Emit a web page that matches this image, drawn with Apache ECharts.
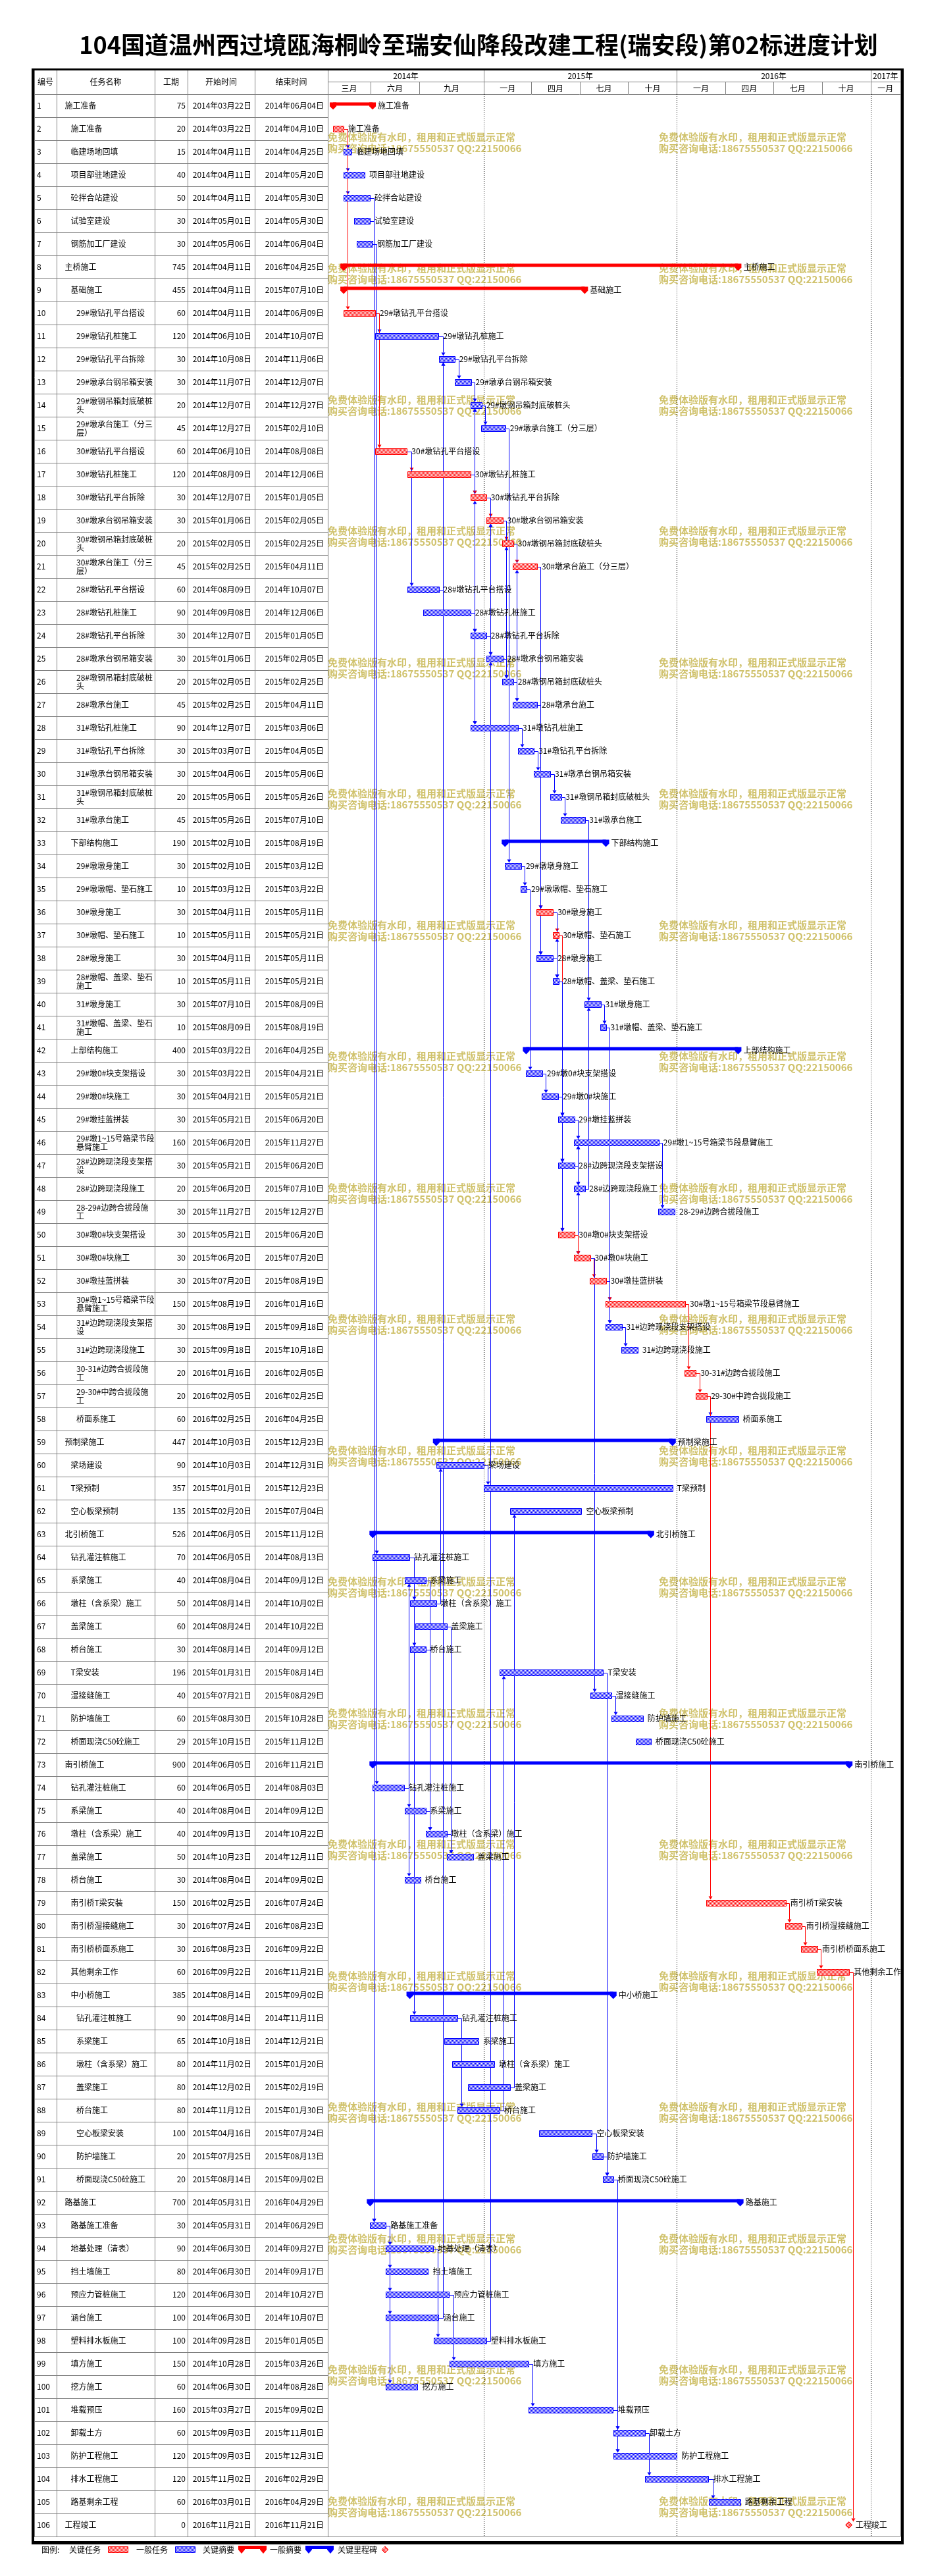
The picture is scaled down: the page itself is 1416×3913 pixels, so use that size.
<!DOCTYPE html>
<html><head><meta charset="utf-8">
<script src="https://cdn.jsdelivr.net/npm/echarts@6/dist/echarts.min.js"></script>
<style>html,body{margin:0;padding:0;background:#fff}#c{width:1416px;height:3913px}</style>
</head><body><div id="c"></div>
<script>
// ---------------- DATA ----------------
const taskNames = [
'施工准备','施工准备','临建场地回填','项目部驻地建设','砼拌合站建设','试验室建设','钢筋加工厂建设',
'主桥施工','基础施工','29#墩钻孔平台搭设','29#墩钻孔桩施工','29#墩钻孔平台拆除','29#墩承台钢吊箱安装',
'29#墩钢吊箱封底破桩\n头','29#墩承台施工（分三\n层）','30#墩钻孔平台搭设','30#墩钻孔桩施工','30#墩钻孔平台拆除',
'30#墩承台钢吊箱安装','30#墩钢吊箱封底破桩\n头','30#墩承台施工（分三\n层）','28#墩钻孔平台搭设','28#墩钻孔桩施工',
'28#墩钻孔平台拆除','28#墩承台钢吊箱安装','28#墩钢吊箱封底破桩\n头','28#墩承台施工','31#墩钻孔桩施工',
'31#墩钻孔平台拆除','31#墩承台钢吊箱安装','31#墩钢吊箱封底破桩\n头','31#墩承台施工','下部结构施工',
'29#墩墩身施工','29#墩墩帽、垫石施工','30#墩身施工','30#墩帽、垫石施工','28#墩身施工','28#墩帽、盖梁、垫石\n施工',
'31#墩身施工','31#墩帽、盖梁、垫石\n施工','上部结构施工','29#墩0#块支架搭设','29#墩0#块施工','29#墩挂蓝拼装',
'29#墩1~15号箱梁节段\n悬臂施工','28#边跨现浇段支架搭\n设','28#边跨现浇段施工','28-29#边跨合拢段施\n工',
'30#墩0#块支架搭设','30#墩0#块施工','30#墩挂蓝拼装','30#墩1~15号箱梁节段\n悬臂施工','31#边跨现浇段支架搭\n设',
'31#边跨现浇段施工','30-31#边跨合拢段施\n工','29-30#中跨合拢段施\n工','桥面系施工','预制梁施工','梁场建设',
'T梁预制','空心板梁预制','北引桥施工','钻孔灌注桩施工','系梁施工','墩柱（含系梁）施工','盖梁施工','桥台施工',
'T梁安装','湿接缝施工','防护墙施工','桥面现浇C50砼施工','南引桥施工','钻孔灌注桩施工','系梁施工',
'墩柱（含系梁）施工','盖梁施工','桥台施工','南引桥T梁安装','南引桥湿接缝施工','南引桥桥面系施工','其他剩余工作',
'中小桥施工','钻孔灌注桩施工','系梁施工','墩柱（含系梁）施工','盖梁施工','桥台施工','空心板梁安装','防护墙施工',
'桥面现浇C50砼施工','路基施工','路基施工准备','地基处理（清表）','挡土墙施工','预应力管桩施工','涵台施工',
'塑料排水板施工','填方施工','挖方施工','堆载预压','卸载土方','防护工程施工','排水工程施工','路基剩余工程','工程竣工'];
const durations = [75,20,15,40,50,30,30,745,455,60,120,30,30,20,45,60,120,30,30,20,45,60,90,30,30,20,45,90,30,30,20,45,
190,30,10,30,10,30,10,30,10,400,30,30,30,160,30,20,30,30,30,30,150,30,30,20,20,60,447,90,357,135,526,70,40,50,60,30,
196,40,60,29,900,60,40,40,50,30,150,30,30,60,385,90,65,80,80,80,100,20,20,700,30,90,80,120,100,100,150,60,160,60,120,120,60,0];
const startDates = ['2014-03-22','2014-03-22','2014-04-11','2014-04-11','2014-04-11','2014-05-01','2014-05-06',
'2014-04-11','2014-04-11','2014-04-11','2014-06-10','2014-10-08','2014-11-07','2014-12-07','2014-12-27','2014-06-10',
'2014-08-09','2014-12-07','2015-01-06','2015-02-05','2015-02-25','2014-08-09','2014-09-08','2014-12-07','2015-01-06',
'2015-02-05','2015-02-25','2014-12-07','2015-03-07','2015-04-06','2015-05-06','2015-05-26','2015-02-10','2015-02-10',
'2015-03-12','2015-04-11','2015-05-11','2015-04-11','2015-05-11','2015-07-10','2015-08-09','2015-03-22','2015-03-22',
'2015-04-21','2015-05-21','2015-06-20','2015-05-21','2015-06-20','2015-11-27','2015-05-21','2015-06-20','2015-07-20',
'2015-08-19','2015-08-19','2015-09-18','2016-01-16','2016-02-05','2016-02-25','2014-10-03','2014-10-03','2015-01-01',
'2015-02-20','2014-06-05','2014-06-05','2014-08-04','2014-08-14','2014-08-24','2014-08-14','2015-01-31','2015-07-21',
'2015-08-30','2015-10-15','2014-06-05','2014-06-05','2014-08-04','2014-09-13','2014-10-23','2014-08-04','2016-02-25',
'2016-07-24','2016-08-23','2016-09-22','2014-08-14','2014-08-14','2014-10-18','2014-11-02','2014-12-02','2014-11-12',
'2015-04-16','2015-07-25','2015-08-14','2014-05-31','2014-05-31','2014-06-30','2014-06-30','2014-06-30','2014-06-30',
'2014-09-28','2014-10-28','2014-06-30','2015-03-27','2015-09-03','2015-09-03','2015-11-02','2016-03-01','2016-11-21'];
const endDates = ['2014-06-04','2014-04-10','2014-04-25','2014-05-20','2014-05-30','2014-05-30','2014-06-04',
'2016-04-25','2015-07-10','2014-06-09','2014-10-07','2014-11-06','2014-12-07','2014-12-27','2015-02-10','2014-08-08',
'2014-12-06','2015-01-05','2015-02-05','2015-02-25','2015-04-11','2014-10-07','2014-12-06','2015-01-05','2015-02-05',
'2015-02-25','2015-04-11','2015-03-06','2015-04-05','2015-05-06','2015-05-26','2015-07-10','2015-08-19','2015-03-12',
'2015-03-22','2015-05-11','2015-05-21','2015-05-11','2015-05-21','2015-08-09','2015-08-19','2016-04-25','2015-04-21',
'2015-05-21','2015-06-20','2015-11-27','2015-06-20','2015-07-10','2015-12-27','2015-06-20','2015-07-20','2015-08-19',
'2016-01-16','2015-09-18','2015-10-18','2016-02-05','2016-02-25','2016-04-25','2015-12-23','2014-12-31','2015-12-23',
'2015-07-04','2015-11-12','2014-08-13','2014-09-12','2014-10-02','2014-10-22','2014-09-12','2015-08-14','2015-08-29',
'2015-10-28','2015-11-12','2016-11-21','2014-08-03','2014-09-12','2014-10-22','2014-12-11','2014-09-02','2016-07-24',
'2016-08-23','2016-09-22','2016-11-21','2015-09-02','2014-11-11','2014-12-21','2015-01-20','2015-02-19','2015-01-30',
'2015-07-24','2015-08-13','2015-09-02','2016-04-29','2014-06-29','2014-09-27','2014-09-17','2014-10-27','2014-10-07',
'2015-01-05','2015-03-26','2014-08-28','2015-09-02','2015-11-01','2015-12-31','2016-02-29','2016-04-29','2016-11-21'];
const levels = [1,2,2,2,2,2,2,1,2,3,3,3,3,3,3,3,3,3,3,3,3,3,3,3,3,3,3,3,3,3,3,3,2,3,3,3,3,3,3,3,3,2,3,3,3,3,3,3,3,3,3,3,3,3,3,3,3,3,
1,2,2,2,1,2,2,2,2,2,2,2,2,2,1,2,2,2,2,2,2,2,2,2,2,3,3,3,3,3,3,3,3,1,2,2,2,2,2,2,2,2,2,2,2,2,2,1];
const criticalIds = [1,2,8,9,10,16,17,18,19,20,21,36,37,50,51,52,53,56,57,79,80,81,82,106];
const tableHeaders = ['编号','任务名称','工期','开始时间','结束时间'];
const yearLabels = ['2014年','2015年','2016年','2017年'];
const yearStarts = ['2014-01-01','2015-01-01','2016-01-01','2017-01-01'];
const tierLabels = ['三月','六月','九月','一月','四月','七月','十月','一月','四月','七月','十月','一月'];
const tierStarts = ['2014-03-01','2014-06-01','2014-09-01','2015-01-01','2015-04-01','2015-07-01','2015-10-01',
'2016-01-01','2016-04-01','2016-07-01','2016-10-01','2017-01-01'];
const legendLabels = ['图例:','关键任务','一般任务','关键摘要','一般摘要','关键里程碑'];
const titleText = '104国道温州西过境瓯海桐岭至瑞安仙降段改建工程(瑞安段)第02标进度计划';
const watermarkLines = ['免费体验版有水印，租用和正式版显示正常','购买咨询电话:18675550537 QQ:22150066'];

// ---------------- HELPERS ----------------
const DAY = 864e5;
const pd = s => { const [y,m,d] = s.split('-').map(Number); return Date.UTC(y, m-1, d); };
const fmt = s => { const [y,m,d] = s.split('-'); return y+'年'+m+'月'+d+'日'; };
const N = taskNames.length;
const ids = taskNames.map((_, i) => String(i + 1));
const sTs = startDates.map(pd), eTs = endDates.map(pd);
const isSummary = levels.map((l, i) => i < N - 1 && levels[i + 1] > l);
const isMile = durations.map(v => v === 0);
const isCrit = ids.map(id => criticalIds.includes(Number(id)));
const AXIS_MIN = pd('2014-03-12'), AXIS_MAX = pd('2017-02-26') + DAY / 2;
const END_OFF = 0.7 * DAY;
const FONT = '12px "Noto Sans CJK SC", sans-serif';
const GRAY = '#808080';
const RED = '#ff0000', BLUE = '#0000ff';

function pattern(color) {
  const cv = document.createElement('canvas'); cv.width = 2; cv.height = 2;
  const g = cv.getContext('2d'); g.fillStyle = '#ffffff'; g.fillRect(0, 0, 2, 2);
  g.fillStyle = color; g.fillRect(0, 0, 1, 1); g.fillRect(1, 1, 1, 1);
  return { image: cv, repeat: 'repeat' };
}
const PAT_RED = pattern(RED), PAT_BLUE = pattern(BLUE);
const px = v => Math.round(v) + 0.5;
const ln = (x1, y1, x2, y2, c, w) => ({ type: 'line', shape: { x1, y1, x2, y2 }, style: { stroke: c, lineWidth: w || 1 } });
const tx = (x, y, t, align, extra) => ({ type: 'text', x, y, style: Object.assign({ text: t, font: FONT, fill: '#000', textAlign: align || 'left', textVerticalAlign: 'middle', lineHeight: 13 }, extra || {}) });

// layout constants (px)
const TL = 52, TW = 446, GL = 498, GW = 870, BT = 143, BH = 3710, HT = 105, HH = 38;
const colEdges = [0, 34, 183, 233, 335, 446];
const indent = { 1: 12.5, 2: 21.5, 3: 30 };

// links inferred from finish-to-start dates
const links = [];
for (let j = 0; j < N; j++) {
  if (isSummary[j]) continue;
  for (let i = 0; i < N; i++) {
    if (i === j || isSummary[i] || isMile[i]) continue;
    const gap = Math.round((sTs[j] - eTs[i]) / DAY);
    if (gap === 0 || gap === 1) links.push([eTs[i] + END_OFF, i, sTs[j], j, (isCrit[i] && isCrit[j]) ? 1 : 0]);
  }
}

function clampCells(starts) {
  return starts.map((s, k) => {
    const a = Math.max(pd(s), AXIS_MIN);
    const b = k < starts.length - 1 ? Math.min(pd(starts[k + 1]), AXIS_MAX) : AXIS_MAX;
    return [a, b];
  });
}
const yearCells = clampCells(yearStarts).map((c, k) => [c[0], c[1], 0, k]);
const tierCells = clampCells(tierStarts).map((c, k) => [c[0], c[1], 1, k]);

// ---------------- CHART ----------------
const chart = echarts.init(document.getElementById('c'), null, { renderer: 'canvas', width: 1416, height: 3913 });

const hidden = { show: false };
const option = {
  animation: false,
  backgroundColor: '#ffffff',
  grid: [
    { left: TL, top: BT, width: TW, height: BH, outerBoundsMode: 'none' },
    { left: GL, top: BT, width: GW, height: BH, outerBoundsMode: 'none' },
    { left: TL, top: HT, width: TW, height: HH, outerBoundsMode: 'none' },
    { left: GL, top: HT, width: GW, height: HH, outerBoundsMode: 'none' }
  ],
  xAxis: [
    Object.assign({ type: 'value', gridIndex: 0, min: 0, max: TW }, hidden),
    Object.assign({ type: 'time', gridIndex: 1, min: AXIS_MIN, max: AXIS_MAX }, hidden),
    Object.assign({ type: 'value', gridIndex: 2, min: 0, max: TW }, hidden),
    Object.assign({ type: 'time', gridIndex: 3, min: AXIS_MIN, max: AXIS_MAX }, hidden)
  ],
  yAxis: [
    Object.assign({ type: 'category', gridIndex: 0, data: ids, inverse: true }, hidden),
    Object.assign({ type: 'category', gridIndex: 1, data: ids, inverse: true }, hidden),
    Object.assign({ type: 'category', gridIndex: 2, data: ['h'], inverse: true }, hidden),
    Object.assign({ type: 'category', gridIndex: 3, data: ['year', 'tier'], inverse: true }, hidden)
  ],
  series: [
    { // table body
      type: 'custom', xAxisIndex: 0, yAxisIndex: 0, silent: true, z: 2,
      data: ids.map((_, i) => [0, i]),
      renderItem: (p, api) => {
        const i = api.value(1);
        const c = api.coord([0, i]); const h = api.size([0, 1])[1];
        const x0 = c[0], cy = c[1], top = cy - h / 2, bot = cy + h / 2;
        const k = [ln(x0, px(bot), x0 + TW, px(bot), GRAY)];
        colEdges.slice(1).forEach(e => k.push(ln(px(x0 + e), top, px(x0 + e), bot, GRAY)));
        k.push(tx(x0 + 4, cy, ids[i], 'left'));
        k.push(tx(x0 + colEdges[1] + indent[levels[i]], cy, taskNames[i], 'left'));
        k.push(tx(x0 + 230, cy, String(durations[i]), 'right'));
        k.push(tx(x0 + 330, cy, fmt(startDates[i]), 'right'));
        k.push(tx(x0 + 440, cy, fmt(endDates[i]), 'right'));
        return { type: 'group', children: k };
      }
    },
    { // table header
      type: 'custom', xAxisIndex: 2, yAxisIndex: 2, silent: true, z: 2,
      data: tableHeaders.map((_, k) => [k, 0]),
      renderItem: (p, api) => {
        const k = p.dataIndex;
        const a = api.coord([colEdges[k], 0]), b = api.coord([colEdges[k + 1], 0]);
        const h = api.size([0, 1])[1];
        const top = a[1] - h / 2, bot = a[1] + h / 2;
        return { type: 'group', children: [
          ln(px(b[0]), top, px(b[0]), bot, GRAY),
          ln(a[0], px(bot), b[0], px(bot), GRAY),
          tx((a[0] + b[0]) / 2, a[1], tableHeaders[k], 'center')
        ] };
      }
    },
    { // gantt header: years and tiers
      type: 'custom', xAxisIndex: 3, yAxisIndex: 3, silent: true, z: 2,
      data: yearCells.concat(tierCells),
      encode: { x: [0, 1], y: 2 },
      renderItem: (p, api) => {
        const row = api.value(2), k = api.value(3);
        const a = api.coord([api.value(0), row]), b = api.coord([api.value(1), row]);
        const h = api.size([0, 1])[1];
        const top = a[1] - h / 2, bot = a[1] + h / 2;
        const label = row === 0 ? yearLabels[k] : tierLabels[k];
        return { type: 'group', children: [
          ln(px(b[0]), top, px(b[0]), bot, GRAY),
          ln(a[0], px(bot), b[0], px(bot), GRAY),
          tx((a[0] + b[0]) / 2, a[1] + 1, label, 'center')
        ] };
      }
    },
    { // dotted year lines
      type: 'custom', xAxisIndex: 1, yAxisIndex: 1, silent: true, z: 2,
      data: yearStarts.map(pd).filter(t => t > AXIS_MIN && t < AXIS_MAX).map(t => [t, 0]),
      renderItem: (p, api) => {
        const a = api.coord([api.value(0), 0]); const h = api.size([0, 1])[1];
        const b = api.coord([api.value(0), N - 1]);
        return { type: 'line', shape: { x1: px(a[0]), y1: a[1] - h / 2, x2: px(a[0]), y2: b[1] + h / 2 },
          style: { stroke: '#000', lineWidth: 1, lineDash: [1, 2] } };
      }
    },
    { // links
      type: 'custom', xAxisIndex: 1, yAxisIndex: 1, silent: true, z: 3,
      data: links, encode: { x: [0, 2], y: [1, 3] },
      renderItem: (p, api) => {
        const a = api.coord([api.value(0), api.value(1)]);
        const b = api.coord([api.value(2), api.value(3)]);
        const col = api.value(4) ? RED : BLUE;
        const X = px(b[0] + 6);
        const down = b[1] > a[1];
        const tip = down ? b[1] - 5 : b[1] + 5;
        const base = down ? tip - 5 : tip + 5;
        return { type: 'group', children: [
          { type: 'polyline', shape: { points: [[a[0], px(a[1])], [X, px(a[1])], [X, base]] }, style: { stroke: col, lineWidth: 1, fill: null } },
          { type: 'polygon', shape: { points: [[X - 3, base], [X + 3, base], [X, tip]] }, style: { fill: col } }
        ] };
      }
    },
    { // bars, summaries, milestone and labels
      type: 'custom', xAxisIndex: 1, yAxisIndex: 1, silent: true, z: 4,
      data: ids.map((_, i) => [sTs[i], eTs[i] + END_OFF, i]),
      encode: { x: [0, 1], y: 2 },
      renderItem: (p, api) => {
        const i = api.value(2);
        const s = api.coord([api.value(0), i]), e = api.coord([api.value(1), i]);
        const cy = s[1];
        const crit = isCrit[i];
        const col = crit ? RED : BLUE;
        const label = taskNames[i].replace('\n', '');
        const k = [];
        if (isMile[i]) {
          const x = s[0];
          k.push({ type: 'polygon', shape: { points: [[x, cy - 5], [x + 5, cy], [x, cy + 5], [x - 5, cy]] },
            style: { fill: crit ? PAT_RED : PAT_BLUE, stroke: col, lineWidth: 1 } });
          k.push(tx(x + 10, cy, label, 'left'));
        } else if (isSummary[i]) {
          k.push({ type: 'rect', shape: { x: s[0], y: cy - 5, width: e[0] - s[0], height: 5 }, style: { fill: col } });
          [s[0], e[0]].forEach(x => k.push({ type: 'polygon',
            shape: { points: [[x - 5, cy - 5], [x + 5, cy - 5], [x + 5, cy + 1], [x, cy + 6], [x - 5, cy + 1]] },
            style: { fill: col } }));
          k.push(tx(e[0] + 8, cy, label, 'left'));
        } else {
          k.push({ type: 'rect', shape: { x: Math.round(s[0]) + 0.5, y: Math.round(cy - 5) + 0.5, width: Math.max(2, Math.round(e[0] - s[0])), height: 9 },
            style: { fill: crit ? PAT_RED : PAT_BLUE, stroke: col, lineWidth: 1 } });
          k.push(tx(e[0] + 7, cy, label, 'left'));
        }
        return { type: 'group', children: k };
      }
    }
  ],
  graphic: []
};

// title
option.graphic.push({ type: 'text', x: 727, y: 68, z: 10, style: { text: titleText, font: 'bold 36px "Noto Sans CJK SC", sans-serif', fill: '#000', textAlign: 'center', textVerticalAlign: 'middle' } });

// frame
const frame = [
  [50, 104, 1321, 3], [48, 104, 4, 3761], [1369, 104, 4, 3761], [48, 3860, 1325, 5]
];
frame.forEach(r => option.graphic.push({ type: 'rect', z: 10, shape: { x: r[0], y: r[1], width: r[2], height: r[3] }, style: { fill: '#000' } }));
option.graphic.push({ type: 'line', z: 5, shape: { x1: 52, y1: 3853.5, x2: 1368, y2: 3853.5 }, style: { stroke: GRAY, lineWidth: 1 } });
option.graphic.push({ type: 'line', z: 5, shape: { x1: 1368.5, y1: 105, x2: 1368.5, y2: 3853 }, style: { stroke: GRAY, lineWidth: 1 } });
option.graphic.push({ type: 'line', z: 5, shape: { x1: 52.5, y1: 105, x2: 52.5, y2: 3853 }, style: { stroke: GRAY, lineWidth: 1 } });

// watermark
for (let k = 0; k < 19; k++) {
  const y = 208 + 199.5 * k;
  [498, 1001].forEach(x => {
    watermarkLines.forEach((t, li) => option.graphic.push({ type: 'text', z: -1, x, y: y + li * 17,
      style: { text: t, font: 'bold 15px "Noto Sans CJK SC", sans-serif', fill: '#d0c26c', textAlign: 'left', textVerticalAlign: 'middle' } }));
  });
}

// legend
const LY = 3873;
const lt = (x, t) => option.graphic.push({ type: 'text', z: 10, x, y: LY, style: { text: t, font: FONT, fill: '#000', textAlign: 'left', textVerticalAlign: 'middle' } });
const sumShape = (x0, x1, col) => {
  option.graphic.push({ type: 'rect', z: 10, shape: { x: x0, y: LY - 6, width: x1 - x0, height: 5 }, style: { fill: col } });
  [x0 + 5, x1 - 5].forEach(x => option.graphic.push({ type: 'polygon', z: 10,
    shape: { points: [[x - 5, LY - 6], [x + 5, LY - 6], [x + 5, LY], [x, LY + 6], [x - 5, LY]] }, style: { fill: col } }));
};
lt(63, legendLabels[0]);
lt(105, legendLabels[1]);
option.graphic.push({ type: 'rect', z: 10, shape: { x: 164.5, y: 3868.5, width: 30, height: 9 }, style: { fill: PAT_RED, stroke: RED, lineWidth: 1 } });
lt(207, legendLabels[2]);
option.graphic.push({ type: 'rect', z: 10, shape: { x: 266.5, y: 3868.5, width: 30, height: 9 }, style: { fill: PAT_BLUE, stroke: BLUE, lineWidth: 1 } });
lt(308, legendLabels[3]);
sumShape(362, 405, RED);
lt(410, legendLabels[4]);
sumShape(464, 507, BLUE);
lt(513, legendLabels[5]);
option.graphic.push({ type: 'polygon', z: 10, shape: { points: [[585, LY - 5], [590, LY], [585, LY + 5], [580, LY]] }, style: { fill: PAT_RED, stroke: RED, lineWidth: 1 } });

chart.setOption(option);
</script>
</body></html>
